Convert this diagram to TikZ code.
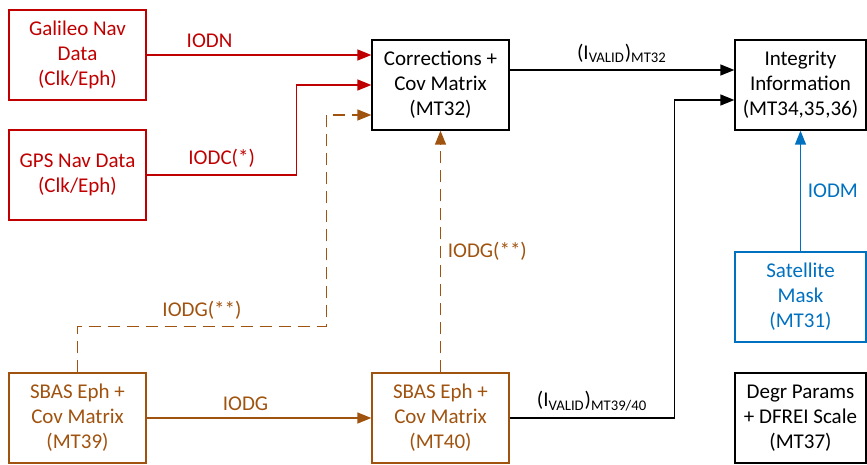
\documentclass[tikz,border=0pt]{standalone}
\usepackage{fontspec}
\setmainfont{Carlito}
\usetikzlibrary{arrows.meta,calc}
\definecolor{navred}{HTML}{C00000}
\definecolor{sbasbrown}{HTML}{A0520F}
\definecolor{maskblue}{HTML}{0070C0}
\tikzset{
	msgbox/.style={draw, line width=0.65pt, minimum width=68.5pt, minimum height=45pt, align=center, inner sep=1pt},
	intbox/.style={msgbox, minimum width=65.5pt},
	link/.style={line width=0.65pt, -{Triangle[length=7pt,width=5.5pt]}},
	dashlink/.style={link, dash pattern=on 6pt off 3.5pt}
}

\begin{document}
\begin{tikzpicture}[x=0.5pt, y=-0.5pt, font=\fontsize{10.5}{12.5}\selectfont]
			%%%%% START %%%%%
			\useasboundingbox (0, 0) rectangle (867, 465);
			
			\node[msgbox, navred] (gal) at (77.5, 55) {Galileo Nav\\Data\\(Clk/Eph)};
			\node[msgbox, navred] (gps) at (77.5, 175) {GPS Nav Data\\(Clk/Eph)};
			
			\node[msgbox] (corr) at (440.5, 85) {Corrections +\\Cov Matrix\\(MT32)};
			\node[intbox] (integ) at (800.5, 85) {Integrity\\Information\\(MT34,35,36)};
			
			\node[intbox, maskblue] (mask) at (800.5, 297) {Satellite\\Mask\\(MT31)};
			\node[intbox] (degr) at (800.5, 418) {Degr Params\\+ DFREI Scale\\(MT37)};
			
			\node[msgbox, sbasbrown] (mt39) at (77.5, 418) {SBAS Eph +\\Cov Matrix\\(MT39)};
			\node[msgbox, sbasbrown] (mt40) at (440.5, 418) {SBAS Eph +\\Cov Matrix\\(MT40)};
			
			\draw[link, navred] (gal.east) -- node[above, pos=0.28] {IODN} (gal.east -| corr.west);
			\draw[link, navred] (gps.east) -- node[above] {IODC(*)} ++(150, 0) |- (corr.west);
			
			\draw[dashlink, sbasbrown] (mt39.north) -- ++(0, -46) -- node[above] {IODG(**)} ++(249, 0) |- ($(corr.west)+(0, 30)$);
			\draw[dashlink, sbasbrown] (mt40.north) -- node[right] {IODG(**)} (corr.south);
			\draw[link, sbasbrown] (mt39.east) -- node[above, pos=0.44] {IODG} (mt40.west);
			
			\draw[link] ($(corr.east)+(0, -15)$) -- node[above] {(I\textsubscript{VALID})\textsubscript{MT32}} ($(integ.west)+(0, -15)$);
			\draw[link] (mt40.east) -- node[above] {(I\textsubscript{VALID})\textsubscript{MT39/40}} ++(165, 0) |- ($(integ.west)+(0, 15)$);
			
			\draw[link, maskblue] (mask.north) -- node[right] {IODM} (integ.south);
			%%%%% END %%%%%
\end{tikzpicture}
\end{document}
